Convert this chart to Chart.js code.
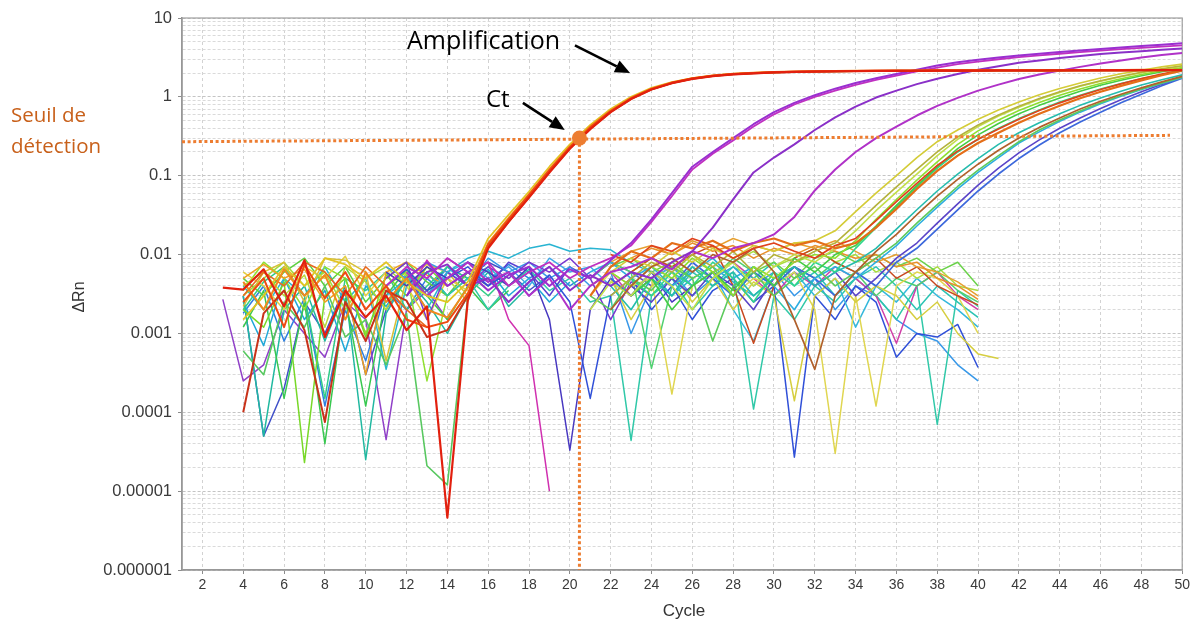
<!DOCTYPE html>
<html>
<head>
<meta charset="utf-8">
<script src="https://cdn.jsdelivr.net/npm/chart.js@4.4.1/dist/chart.umd.min.js"></script>
<style>
  html, body { margin: 0; padding: 0; background: #ffffff; }
  canvas { display: block; }
</style>
</head>
<body>
<canvas id="amp" width="1193" height="622"></canvas>
<script>
// ---------------------------------------------------------------------------
// qPCR amplification plot: ΔRn (log scale) against cycle number, one trace per well.
// Each well is a list of ΔRn readings starting at the cycle given beside it.
// ---------------------------------------------------------------------------

const xTickValues = [2, 4, 6, 8, 10, 12, 14, 16, 18, 20, 22, 24, 26, 28, 30,
                     32, 34, 36, 38, 40, 42, 44, 46, 48, 50];
const yTickValues = [10, 1, 0.1, 0.01, 0.001, 0.0001, 0.00001, 0.000001];
const yTickLabels = ['10', '1', '0.1', '0.01', '0.001', '0.0001', '0.00001', '0.000001'];

// Detection threshold (drawn from cycle 1 to 49.4) and the Ct read-out
const thresholdCycles = [1, 49.4];
const thresholdRn = [0.27, 0.325];
const ctCycle = 20.47;
const ctRn = 0.3;

// --- early amplifying wells (Ct ≈ 20.5) -----------------------------------
const E1 = [ // from cycle 3
  3.8e-3, 3.6e-3, 6.5e-3, 2.2e-3, 8.5e-3, 9e-4, 3.5e-3, 1.6e-3,
  3e-3, 1.1e-3, 2.2e-3, 4.6e-6, 2.6e-3, .012, .026, .053, .11, .22,
  .39, .64, .94, 1.24, 1.49, 1.69, 1.83, 1.93, 1.99, 2.04,
  2.07, 2.09, 2.11, 2.12, 2.13, 2.14, 2.14, 2.15, 2.15, 2.15,
  2.16, 2.16, 2.16, 2.17, 2.17, 2.17, 2.17, 2.18, 2.18, 2.18];
const E2 = [ // from cycle 4
  2.5e-3, 5e-3, 1.2e-3, 7.5e-3, 2.8e-3, 6e-3, 2e-3,
  4e-3, 1.5e-3, 1.2e-3, 1.4e-3, 3.2e-3, .0135, .028, .057, .118, .23,
  .41, .66, .96, 1.26, 1.51, 1.71, 1.85, 1.95, 2.01, 2.05,
  2.08, 2.1, 2.12, 2.13, 2.14, 2.15, 2.15, 2.16, 2.16, 2.17,
  2.17, 2.17, 2.18, 2.18, 2.18, 2.18, 2.19, 2.19, 2.19, 2.19];
const E3 = [ // from cycle 4
  4.5e-3, 2e-3, 6.5e-3, 3e-3, 5.5e-3, 1.5e-3, 6e-3,
  2.5e-3, 5e-3, 2e-3, 1.6e-3, 3.8e-3, .014, .029, .058, .12, .235,
  .42, .67, .97, 1.27, 1.52, 1.72, 1.86, 1.96, 2.02, 2.06,
  2.09, 2.11, 2.13, 2.14, 2.15, 2.16, 2.16, 2.17, 2.17, 2.17,
  2.18, 2.18, 2.18, 2.19, 2.19, 2.19, 2.19, 2.2, 2.2, 2.2];
const E4 = [ // from cycle 4
  1e-4, 1.8e-3, 3.5e-3, 1.1e-3, 7.5e-5, 2.5e-3, 8e-4,
  3.5e-3, 2.6e-3, 9e-4, 1.1e-3, 3e-3, .0125, .026, .054, .112, .222,
  .395, .645, .945, 1.245, 1.495, 1.695, 1.835, 1.935, 1.995, 2.04,
  2.07, 2.09, 2.11, 2.12, 2.13, 2.14, 2.14, 2.15, 2.15, 2.15,
  2.16, 2.16, 2.16, 2.16, 2.17, 2.17, 2.17, 2.17, 2.18, 2.18];
const E5 = [ // from cycle 4
  1.5e-3, 3e-3, 7e-3, 4e-3, 9e-3, 7.5e-3, 5e-3,
  8e-3, 4.5e-3, 3e-3, 2.5e-3, 4.5e-3, .016, .032, .063, .13, .25,
  .44, .7, 1.0, 1.3, 1.54, 1.73, 1.86, 1.95, 2.01, 2.05,
  2.08, 2.1, 2.11, 2.12, 2.13, 2.14, 2.14, 2.15, 2.15, 2.15,
  2.16, 2.16, 2.16, 2.16, 2.17, 2.17, 2.17, 2.17, 2.17, 2.17];
const E6 = [ // from cycle 4
  6e-4, 3e-4, 2.5e-3, 1.2e-3, 4e-3, 9e-4, 1.5e-3,
  4e-4, 1.8e-3, 2.1e-5, 1.2e-5, 2.8e-3, .0128, .027, .055, .114, .226,
  .4, .65, .95, 1.25, 1.5, 1.7, 1.84, 1.94, 2.0, 2.04,
  2.07, 2.09, 2.1, 2.11, 2.12, 2.13, 2.13, 2.14, 2.14, 2.14,
  2.15, 2.15, 2.15, 2.15, 2.16, 2.16, 2.16, 2.16, 2.16, 2.16];

// --- intermediate wells (purple traces, Ct ≈ 28–35) -------------------------
const P1 = [ // from cycle 12
  5e-3, 8e-3, 4e-3, 6e-3, 3.5e-3, 5.5e-3, 7e-3, 4e-3, 6.5e-3,
  5e-3, 8.5e-3, .014, .028, .06, .13, .2, .3, .45, .64,
  .84, 1.05, 1.27, 1.5, 1.72, 1.95, 2.2, 2.5, 2.75, 2.95,
  3.15, 3.35, 3.52, 3.7, 3.88, 4.05, 4.22, 4.4, 4.58, 4.78];
const P1b = [ // from cycle 11
  4e-3, 7e-3, 5e-3, 9e-3, 6e-3, 8e-3, 4e-3, 6e-3, 8e-3, 5e-3,
  7e-3, 9e-3, .013, .026, .055, .12, .19, .28, .42, .6,
  .8, 1.0, 1.2, 1.42, 1.64, 1.86, 2.1, 2.35, 2.6, 2.8,
  3.0, 3.2, 3.36, 3.52, 3.7, 3.86, 4.02, 4.18, 4.34, 4.5];
const P2 = [ // from cycle 12
  3e-3, 6e-3, 7.5e-3, 4e-3, 5e-3, 2.5e-3, 4.5e-3, 7e-3, 3.5e-3,
  5.5e-3, 4e-3, 6e-3, 5e-3, 8e-3, .011, .022, .05, .11, .17,
  .25, .38, .55, .75, .98, 1.2, 1.45, 1.7, 1.95, 2.2,
  2.45, 2.7, 2.9, 3.1, 3.3, 3.5, 3.65, 3.8, 3.95, 4.1];
const P3 = [ // from cycle 12
  6e-3, 3e-3, 5e-3, 8e-3, 4.5e-3, 6e-3, 3e-3, 5e-3, 2e-3,
  4e-3, 6e-3, 7e-3, 9e-3, 6.5e-3, .011, 9e-3, .012, .014, .018,
  .03, .065, .12, .2, .3, .42, .58, .77, .97, 1.2,
  1.43, 1.68, 1.92, 2.15, 2.4, 2.65, 2.9, 3.15, 3.4, 3.6];

// --- late amplifying wells (Ct ≈ 38–43.5) ----------------------------------
const L1 = [ // from cycle 21
  4e-3, 6e-3, 9e-3, 7e-3, 1.1e-2, 8e-3, 1.2e-2, 9e-3, 1.3e-2, 1.1e-2,
  1.4e-2, 1.5e-2, .02, .035, .06, .1, .17, .27, .38, .52,
  .68, .86, 1.06, 1.28, 1.5, 1.73, 1.96, 2.18, 2.4, 2.6];
const L2 = [ // from cycle 22
  3e-3, 5e-3, 8e-3, 6e-3, 1e-2, 7e-3, 1.1e-2, 6e-3, 1e-2,
  8e-3, 1.1e-2, .014, .024, .042, .072, .12, .2, .31, .44,
  .59, .76, .95, 1.16, 1.38, 1.6, 1.83, 2.05, 2.27, 2.48];
const L3 = [ // from cycle 21
  2e-3, 4.5e-3, 3e-3, 6e-3, 4e-3, 2e-3, 5e-3, 8e-3, 4e-3, 7e-3,
  1e-2, 8e-3, .012, .02, .036, .062, .105, .18, .29, .42,
  .57, .74, .93, 1.14, 1.36, 1.58, 1.8, 2.02, 2.23, 2.44];
const L4 = [ // from cycle 22
  6e-3, 4e-3, 7e-3, 5e-3, 9e-3, 6e-3, 3e-3, 7e-3, 5e-3,
  8e-3, 1e-2, 9e-3, .015, .028, .05, .088, .15, .25, .37,
  .51, .67, .85, 1.05, 1.26, 1.48, 1.7, 1.92, 2.14, 2.35];
const L5 = [ // from cycle 23
  3e-3, 5e-3, 2e-3, 4e-3, 6e-3, 3.5e-3, 7e-3, 4e-3,
  9e-3, 6e-3, 1e-2, .013, .023, .042, .075, .13, .22, .33,
  .46, .61, .78, .97, 1.18, 1.4, 1.62, 1.85, 2.08, 2.3];
const L6 = [ // from cycle 21
  3e-3, 7e-3, 1.1e-2, 9e-3, 1.4e-2, 1.2e-2, 1.5e-2, 1.1e-2, 1.4e-2, 1.6e-2,
  1.3e-2, 1.5e-2, 1.2e-2, .014, .022, .038, .068, .115, .18, .26,
  .35, .47, .61, .77, .96, 1.16, 1.38, 1.62, 1.88, 2.15];
const L7 = [ // from cycle 22
  1e-2, 8e-3, 1.3e-2, 1.1e-2, 1.6e-2, 1.3e-2, 9e-3, 1.2e-2, 1.4e-2,
  1.1e-2, 9e-3, 1.3e-2, .016, .027, .047, .08, .135, .205, .29,
  .39, .52, .67, .84, 1.03, 1.24, 1.46, 1.7, 1.95, 2.2];
const L8 = [ // from cycle 22
  2e-3, 4e-3, 7e-3, 9e-3, 6e-3, 1e-2, 8e-3, 1.2e-2, 6e-3,
  1.5e-3, 3.5e-4, 3e-3, 6e-3, .011, .018, .032, .055, .09, .14,
  .21, .3, .41, .54, .7, .88, 1.08, 1.3, 1.55, 1.82];
const L9 = [ // from cycle 23
  5e-3, 3e-3, 6e-3, 4e-3, 8e-3, 5e-3, 2.5e-3, 6e-3,
  4e-3, 8e-3, 6e-3, .012, .022, .04, .072, .125, .2, .29,
  .4, .53, .68, .86, 1.05, 1.26, 1.48, 1.7, 1.92, 2.14];
const L10 = [ // from cycle 22
  4e-3, 2e-3, 5e-3, 3e-3, 7e-3, 4e-3, 6e-3, 3e-3, 5e-3,
  7e-3, 4e-3, 6e-3, 8e-3, .012, .021, .037, .064, .105, .165,
  .25, .35, .47, .61, .78, .97, 1.18, 1.41, 1.65, 1.9];
const L11 = [ // from cycle 21
  6e-3, 8e-3, 5e-3, 7e-3, 4e-3, 6e-3, 9e-3, 5e-3, 7e-3, 4e-3,
  2e-3, 5e-3, 7e-3, 5e-3, 8e-3, .013, .023, .04, .068, .11,
  .17, .26, .36, .49, .64, .82, 1.02, 1.24, 1.48, 1.75];
const L12 = [ // from cycle 22
  5e-3, 3e-3, 6e-3, 4e-3, 8e-3, 5e-3, 3e-3, 6e-3, 4e-3,
  7e-3, 5e-3, 3e-3, 6e-3, 4e-3, 8e-3, .012, .021, .037, .064,
  .105, .165, .245, .35, .48, .64, .84, 1.08, 1.38, 1.72];
const L13 = [ // from cycle 23
  4e-3, 2.5e-3, 5e-3, 3e-3, 6e-3, 4e-3, 2e-3, 5e-3,
  7e-3, 4e-3, 6e-3, 3e-3, 5e-3, 9e-3, .014, .025, .044, .076,
  .125, .195, .285, .4, .54, .71, .92, 1.16, 1.44, 1.76];
const L14 = [ // from cycle 21
  3e-3, 2e-3, 5e-3, 3.5e-3, 7e-3, 5e-3, 8e-4, 4e-3, 6e-3, 3e-3,
  5e-3, 7e-3, 4e-3, 6e-3, 9e-3, .014, .025, .043, .073, .118,
  .18, .27, .38, .51, .66, .84, 1.04, 1.26, 1.5, 1.78];

// --- non-amplifying wells, late baseline window ----------------------------
const N1 = [ // from cycle 22
  5e-3, 1.5e-3, 4e-3, 6e-3, 2.5e-3, 5e-3, 2e-3, 4.5e-3, 3e-3,
  1.4e-4, 3e-3, 5e-3, 2.5e-3, 4e-3, 3e-3, 1.5e-3, 2.5e-3, 1e-3, 5.5e-4, 4.8e-4];
const N2 = [ // from cycle 21
  3e-3, 6e-3, 4e-3, 5e-3, 1.7e-4, 4e-3, 6e-3, 3e-3, 5e-3, 4e-3,
  6e-3, 2e-3, 3e-5, 3e-3, 1.2e-4, 4e-3, 6e-3, 5e-3, 3e-3, 1e-3];
const N3 = [ // from cycle 22
  7e-3, 9e-3, 6e-3, 8e-3, 5e-3, 7e-3, 3e-3, 6e-3, 8e-3,
  5e-3, 9e-3, 1.1e-2, 8e-3, 1e-2, 7e-3, 9e-3, 6e-3, 8e-3, 4e-3];
const N4 = [ // from cycle 23
  9e-3, 1.2e-2, 1e-2, 1.4e-2, 1.1e-2, 1.3e-2, 9e-3, 1.2e-2,
  1e-2, 1.3e-2, 1.1e-2, 9e-3, 1e-2, 7e-3, 8e-3, 5e-3, 4e-3, 2.7e-3];
const N5 = [ // from cycle 23
  6e-3, 9e-3, 7e-3, 1e-2, 1.3e-2, 4e-3, 7.5e-4, 4e-3,
  9e-3, 1.2e-2, 8e-3, 6e-3, 9e-3, 5e-3, 7e-3, 4e-3, 3e-3, 2.3e-3];
const N6 = [ // from cycle 24
  5e-3, 3e-3, 6e-3, 4e-3, 7e-3, 5e-3, 8e-3,
  4e-3, 6e-3, 3e-3, 5e-3, 7e-3, 4e-3, 2e-3, 4e-3, 2.5e-3, 1.6e-3];
const N7 = [ // from cycle 21
  4e-3, 6e-3, 3e-3, 5e-3, 7e-3, 4e-3, 6e-3, 8e-3, 5e-3, 3e-3,
  6e-3, 4e-3, 7e-3, 5e-3, 3e-3, 7.5e-4, 4e-3, 6e-3, 3e-3, 2e-3];
const N8 = [ // from cycle 22
  4e-3, 6e-3, 9e-3, 7e-3, 1e-2, 6e-3, 8e-3, 1.1e-2, 7e-3,
  9e-3, 1.2e-2, 8e-3, 1e-2, 6e-3, 8e-3, 5e-3, 7e-3, 4e-3, 3.5e-3];
const N9 = [ // from cycle 22
  8e-3, 1.1e-2, 1.3e-2, 1e-2, 1.5e-2, 1.2e-2, 1.6e-2, 1.3e-2, 1.1e-2,
  1.4e-2, 1.2e-2, 1.5e-2, 1.1e-2, 8e-3, 1e-2, 7e-3, 6e-3, 4.5e-3, 3e-3];
const N10 = [ // from cycle 23
  3e-3, 5e-3, 7e-3, 4e-3, 6e-3, 2e-3, 8e-4, 4e-3,
  6e-3, 3e-3, 5e-3, 1.2e-3, 4e-3, 2.5e-3, 5e-3, 3e-3, 2e-3, 1.2e-3];
const N11 = [ // from cycle 21
  5e-3, 8e-3, 6e-3, 3.6e-4, 4e-3, 7e-3, 5e-3, 9e-3, 6e-3, 4e-3,
  7e-3, 5e-3, 8e-3, 6e-3, 3e-3, 5e-3, 4e-3, 6e-3, 3.5e-3, 2.5e-3];

// --- non-amplifying wells, mid baseline window -----------------------------
const B1 = [ // from cycle 11
  4e-3, 6.5e-3, 3.5e-3, 5e-3, 7e-3, 4e-3, 6e-3, 3e-3, 5.5e-3, 2.5e-3,
  1.5e-4, 3e-3, 5e-3, 2e-3, 4e-3, 1.5e-3, 3.5e-3, 5e-3, 2.5e-3, 4e-3,
  2.7e-5, 3e-3, 1.5e-3, 4e-3, 2.5e-3, 5e-4, 1e-3, 9e-4, 1.3e-3, 3.7e-4];
const B2 = [ // from cycle 11
  6e-3, 4e-3, 7e-3, 5e-3, 8e-3, 6e-3, 4e-3, 7e-3, 1.5e-3, 3.3e-5,
  2e-3, 5e-3, 3e-3, 6e-3, 2.5e-3, 4e-3];
const B3 = [ // from cycle 11
  3e-3, 5e-3, 2e-3, 6e-3, 9e-3, .011, 9e-3, .012, .0135, .011,
  .012, .0115, 7.8e-3, 6e-3, 3e-3, 5e-3, 7e-3, 4.5e-3, 3e-3, 5e-3];
const B4 = [ // from cycle 12
  3e-3, 8.5e-3, 4e-3, 6e-3, 8e-3, 1.5e-3, 7e-4, 1e-5];
const B5 = [ // from cycle 11
  5e-3, 8e-3, 1.5e-3, 6e-3, 4e-3, 7e-3, 5e-3, 8e-3, 6e-3, 9e-3,
  5e-3, 1.5e-3, 4.5e-3, 3e-3];
const B6 = [ // from cycle 11
  2.5e-3, 4.5e-3, 6e-3, 3e-3, 5e-3, 2e-3, 4e-3, 6.5e-3, 3.5e-3, 5e-3,
  2.5e-3, 3e-3, 4.4e-5, 3e-3, 5e-3, 2e-3, 4e-3, 6e-3, 1.1e-4, 3e-3,
  1.5e-3, 4e-3, 2.5e-3, 5e-3, 3e-3, 1.5e-3, 4e-3, 7e-5, 3.5e-3, 2.2e-3];
const B7 = [ // from cycle 11
  7e-3, 5e-3, 8e-3, 6e-3, 4e-3, 9e-3, 6e-3, 8e-3, 5e-3, 7e-3,
  4e-3, 6e-3, 1e-3, 4e-3, 6e-3, 3e-3, 5e-3, 7e-3, 4e-3, 6e-3,
  3e-3, 5e-3, 2e-3, 4e-3, 3e-3, 1.5e-3, 1e-3, 8e-4, 4e-4, 2.5e-4];
const B8 = [ // from cycle 12
  7e-3, 5e-3, 9e-3, 6e-3, 4e-3, 8e-3, 6e-3, 3e-3, 7e-3, 5e-3, 8e-3, 6e-3, 4e-3];
const B9 = [ // from cycle 12
  5e-3, 3e-3, 6e-3, 8e-3, 5e-3, 7e-3, 4e-3, 9e-3, 6e-3, 7e-3, 4e-3];

// --- non-amplifying wells, early baseline window ---------------------------
const A1 = [ // from cycle 4
  4e-3, 6e-3, 3e-3, 5.5e-3, 1.2e-3, 7e-3, 4.5e-3, 2e-3, 6e-3, 3.5e-3, 5e-3, 2.5e-3];
const A2 = [ // from cycle 4
  2e-3, 1.2e-3, 4.5e-3, 2.3e-5, 3e-3, 5e-3, 9e-4, 5.5e-3, 3e-3, 7e-3, 4e-3, 6e-3, 3.5e-3];
const A3 = [ // from cycle 4
  1.2e-3, 3.5e-3, 1.5e-4, 2.5e-3, 4e-5, 2.8e-3, 1.2e-4, 3e-3, 6.5e-3, 3e-3, 1.5e-3, 4e-3, 2e-3, 3.5e-3];
const A4 = [ // from cycle 4
  3e-3, 5e-5, 2e-3, 4e-3, 8e-4, 3.5e-3, 2.5e-5, 1.8e-3, 5e-3, 2.5e-3, 1e-3, 3e-3, 6e-3, 2.2e-3, 4e-3];
const A5 = [ // from cycle 4
  2.5e-3, 7e-4, 5e-3, 1.5e-3, 3.5e-3, 6e-4, 4e-3, 2.2e-3, 5.5e-3, 3e-3,
  7e-3, 4e-3, 6.5e-3, 3e-3, 5e-3, 2.5e-3, 4.5e-3];
const A6 = [ // from cycle 4
  1.8e-3, 4e-3, 8e-4, 2.8e-3, 1.2e-4, 2e-3, 4.5e-4, 3.5e-3, 2e-3, 5e-3,
  3e-3, 6e-3, 4.5e-3, 7.5e-3, 5e-3, 7e-3, 4e-3, 6e-3];
const A7 = [ // from cycle 4
  5e-3, 7.5e-3, 5e-3, 6.5e-3, 2.5e-3, 4e-3, 3e-4, 6e-3, 8e-3, 5.5e-3, 4e-3];
const A8 = [ // from cycle 4
  2.2e-3, 6e-3, 8e-3, 2.5e-3, 9e-3, 8.5e-3, 6e-3, 4.5e-4, 5e-3, 7.5e-3, 6e-3, 3e-3];
const A9 = [ // from cycle 3
  2.7e-3, 2.5e-4, 4e-4, 2e-3, 1e-3, 5e-4, 2.5e-3, 1.5e-3, 4.5e-5, 2e-3, 3.5e-3, 1.5e-3];
const A10 = [ // from cycle 4
  3e-3, 5e-5, 2e-4, 2.5e-3, 1e-3, 4e-3, 3e-4, 2e-3, 5e-3, 3.5e-3,
  7e-3, 5e-3, 8e-3, 6e-3, 3.5e-3, 5.5e-3];
const A11 = [ // from cycle 4
  3e-3, 5e-3, 8e-3, 4e-3, 6e-3, 2e-3, 5e-3, 7e-3, 4e-3, 6e-3];
const A12 = [ // from cycle 4
  5e-3, 3e-3, 6e-3, 9e-3, 4e-3, 7e-3, 2.5e-3, 5e-3, 8e-3, 4.5e-3, 3e-3, 6e-3, 4e-3];
const A13 = [ // from cycle 4
  3.5e-3, 8e-3, 5e-3, 2e-3, 7e-3, 5e-3, 1e-3, 4e-3, 6e-3, 2.5e-4, 3e-3];
const A14 = [ // from cycle 4
  6e-3, 4e-3, 2e-3, 7e-3, 5e-3, 9.5e-3, 3e-3, 6e-3, 4e-3, 1.5e-3, 5e-3, 3.5e-3];
const A15 = [ // from cycle 4
  2e-3, 4.5e-3, 7e-3, 3e-3, 1.5e-4, 5e-3, 3.5e-3, 6e-3, 2e-3, 4e-3, 7e-3, 5e-3, 3e-3, 5.5e-3];
const A16 = [ // from cycle 4
  3e-3, 6e-3, 4e-3, 8e-3, 6e-3, 3e-3, 7e-3, 4e-3, 2e-3, 1.2e-3];
const A17 = [ // from cycle 4
  4e-3, 2e-3, 5e-3, 3e-3, 7e-3, 2.5e-3, 5e-3, 3.5e-4, 4e-3, 6e-3, 3e-3, 5e-3, 7e-3, 4e-3, 6e-3];

// Wells in drawing order (first entry ends up on top): values, first cycle, colour, width
const wells = [
  [E1, 3, '#e2200e', 2.2], [E2, 4, '#ee4a10', 2], [E4, 4, '#c8321a', 2],
  [E3, 4, '#f08a1e', 2], [E5, 4, '#e2c424', 1.8], [E6, 4, '#58c860', 1.6],
  [P1, 12, '#9a2fd0', 2], [P1b, 11, '#c030c0', 1.8], [P2, 12, '#8a30c8', 2], [P3, 12, '#b032c8', 2],
  [L6, 21, '#e46e18', 2.2], [L7, 22, '#e0421c', 1.7], [L8, 22, '#b0602c', 1.7],
  [L1, 21, '#d4cc38', 1.6], [L2, 22, '#b4b23c', 1.6], [L3, 21, '#c2de4a', 1.6],
  [L4, 22, '#8ede30', 1.6], [L5, 23, '#44cc44', 1.6], [L9, 23, '#30d68c', 1.6],
  [L14, 21, '#5cca5c', 1.6], [L10, 22, '#26bcae', 1.6], [L11, 21, '#2eaee0', 1.6],
  [L13, 23, '#5a44c8', 1.6], [L12, 22, '#3c68dc', 1.7],
  [N4, 23, '#e8902a', 1.5], [N9, 22, '#e6a030', 1.5], [N5, 23, '#c8481e', 1.5],
  [N1, 22, '#d6ce40', 1.5], [N2, 21, '#e0d650', 1.5], [N3, 22, '#6cd24c', 1.5],
  [N8, 22, '#a8dc40', 1.5], [N11, 21, '#50d070', 1.5], [N6, 24, '#2cc4b4', 1.5],
  [N10, 23, '#34b8dc', 1.5], [N7, 21, '#d040a8', 1.5],
  [B1, 11, '#3050d8', 1.5], [B2, 11, '#4838c0', 1.5], [B3, 11, '#28b4d2', 1.5],
  [B4, 12, '#d030b0', 1.5], [B5, 11, '#7838d0', 1.5], [B6, 11, '#30c8a8', 1.5],
  [B7, 11, '#3898e8', 1.5], [B8, 12, '#5a40d0', 1.5], [B9, 12, '#40a8e8', 1.5],
  [A16, 4, '#e86a20', 1.6], [A7, 4, '#f0a020', 1.5], [A8, 4, '#d8c038', 1.5],
  [A14, 4, '#e4d040', 1.5], [A1, 4, '#b8d838', 1.5], [A11, 4, '#a0dc3c', 1.5],
  [A2, 4, '#78d828', 1.5], [A13, 4, '#90e030', 1.5], [A12, 4, '#5cd040', 1.5],
  [A3, 4, '#38c850', 1.5], [A15, 4, '#30cc88', 1.5], [A4, 4, '#20b8a0', 1.5],
  [A17, 4, '#28b8d0', 1.5], [A5, 4, '#20a8d8', 1.5], [A6, 4, '#3080e0', 1.5],
  [A9, 3, '#9040c8', 1.5], [A10, 4, '#4050c8', 1.5]
];

const ORANGE = '#ed7d31';

const datasets = [
  { // Ct marker on the threshold
    data: [{ x: ctCycle, y: ctRn }],
    showLine: false, pointRadius: 7.5, pointBackgroundColor: ORANGE,
    pointBorderWidth: 0, borderColor: ORANGE
  },
  { // threshold
    data: thresholdCycles.map((c, i) => ({ x: c, y: thresholdRn[i] })),
    borderColor: ORANGE, borderWidth: 3, borderDash: [3, 2.6],
    pointRadius: 0, borderCapStyle: 'butt'
  },
  { // drop from the Ct point to the cycle axis
    data: [{ x: ctCycle, y: ctRn }, { x: ctCycle, y: 0.000001 }],
    borderColor: ORANGE, borderWidth: 3, borderDash: [3, 2.6],
    pointRadius: 0, borderCapStyle: 'butt'
  }
].concat(wells.map(([vals, first, color, width]) => ({
  data: vals.map((v, i) => ({ x: first + i, y: v })),
  borderColor: color,
  borderWidth: width,
  pointRadius: 0,
  borderJoinStyle: 'round',
  tension: 0
})));

// Minor log grid positions (1..9 within each decade)
const yGrid = [];
for (let e = -6; e <= 0; e++) {
  for (let m = 1; m <= 9; m++) yGrid.push(m * Math.pow(10, e));
}
yGrid.push(10);
const isDecade = v => yTickValues.some(t => Math.abs(t - v) / t < 1e-9);

function arrow(ctx, x1, y1, x2, y2) {
  const ang = Math.atan2(y2 - y1, x2 - x1);
  const len = 15, half = 6.5;
  const bx = x2 - len * Math.cos(ang), by = y2 - len * Math.sin(ang);
  ctx.beginPath();
  ctx.moveTo(x1, y1);
  ctx.lineTo(bx, by);
  ctx.stroke();
  ctx.beginPath();
  ctx.moveTo(x2, y2);
  ctx.lineTo(bx + half * Math.sin(ang), by - half * Math.cos(ang));
  ctx.lineTo(bx - half * Math.sin(ang), by + half * Math.cos(ang));
  ctx.closePath();
  ctx.fill();
}

const decorations = {
  id: 'decorations',
  beforeDatasetsDraw(chart) {
    const { ctx, chartArea: a } = chart;
    ctx.save();
    ctx.strokeStyle = '#a0a0a0';
    ctx.lineWidth = 1.2;
    ctx.strokeRect(a.left, a.top, a.right - a.left, a.bottom - a.top);
    ctx.restore();
  },
  afterDraw(chart) {
    const { ctx, scales: { x, y } } = chart;
    const P = (c, v) => [x.getPixelForValue(c), y.getPixelForValue(v)];
    ctx.save();

    // axis titles
    ctx.fillStyle = '#333';
    ctx.font = '17px "Liberation Sans", Arial, sans-serif';
    ctx.textAlign = 'center';
    ctx.textBaseline = 'middle';
    ctx.fillText('Cycle', 684, 611);
    ctx.save();
    ctx.translate(80, 297);
    ctx.rotate(-Math.PI / 2);
    ctx.font = '16px "Liberation Sans", Arial, sans-serif';
    ctx.fillText('ΔRn', 0, 0);
    ctx.restore();

    // call-outs
    ctx.textAlign = 'left';
    ctx.textBaseline = 'alphabetic';
    ctx.fillStyle = '#000';
    ctx.font = '25px "Open Sans", sans-serif';
    ctx.fillText('Amplification', 407, 49);
    ctx.font = '24px "Open Sans", sans-serif';
    ctx.fillText('Ct', 486, 107);

    ctx.strokeStyle = '#000';
    ctx.lineWidth = 2.6;
    const [a1x, a1y] = P(20.25, 4.5), [a2x, a2y] = P(22.95, 2.0);
    arrow(ctx, a1x, a1y, a2x, a2y);
    const [c1x, c1y] = P(17.7, 0.84), [c2x, c2y] = P(19.75, 0.38);
    arrow(ctx, c1x, c1y, c2x, c2y);

    ctx.fillStyle = '#c8601a';
    ctx.font = '20.5px "Open Sans", sans-serif';
    ctx.fillText('Seuil de', 11, 122);
    ctx.fillText('détection', 11, 153);
    ctx.restore();
  }
};

new Chart(document.getElementById('amp'), {
  type: 'line',
  data: { datasets },
  options: {
    responsive: false,
    devicePixelRatio: 1,
    animation: false,
    events: [],
    layout: { padding: { top: 18, right: 9, left: 0, bottom: 0 } },
    plugins: { legend: { display: false }, tooltip: { enabled: false } },
    scales: {
      x: {
        type: 'linear', min: 1, max: 50,
        afterBuildTicks: s => { s.ticks = xTickValues.map(v => ({ value: v })); },
        afterFit: s => { s.height = 52; },
        ticks: {
          autoSkip: false, maxRotation: 0, padding: 3,
          color: '#3a3a3a',
          font: { family: '"Liberation Sans", Arial, sans-serif', size: 14 }
        },
        grid: { color: '#d2d2d2', lineWidth: 1, tickLength: 4, tickColor: '#8c8c8c' },
        border: { color: '#8c8c8c', width: 1.6, dash: [3, 3] }
      },
      y: {
        type: 'logarithmic', min: 0.000001, max: 10,
        afterBuildTicks: s => { s.ticks = yGrid.map(v => ({ value: v })); },
        afterFit: s => { s.width = 182; },
        ticks: {
          autoSkip: false, padding: 6,
          color: '#3a3a3a',
          font: { family: '"Liberation Sans", Arial, sans-serif', size: 16.5 },
          callback: v => {
            const i = yTickValues.findIndex(t => Math.abs(t - v) / t < 1e-9);
            return i >= 0 ? yTickLabels[i] : '';
          }
        },
        grid: {
          lineWidth: 1, tickLength: 4,
          color: c => (c.tick && isDecade(c.tick.value)) ? '#c4c4c4' : '#dadada',
          tickColor: c => (c.tick && isDecade(c.tick.value)) ? '#8c8c8c' : 'rgba(0,0,0,0)'
        },
        border: { color: '#8c8c8c', width: 1.6, dash: [3, 2] }
      }
    }
  },
  plugins: [decorations]
});
</script>
</body>
</html>
